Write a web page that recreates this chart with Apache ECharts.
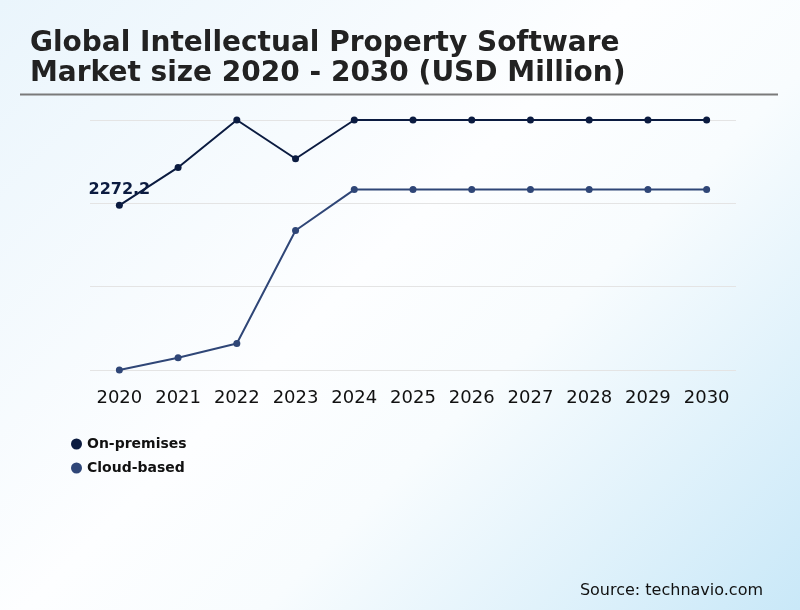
<!DOCTYPE html>
<html>
<head>
<meta charset="utf-8">
<title>Global Intellectual Property Software Market</title>
<script src="https://cdn.jsdelivr.net/npm/echarts@6/dist/echarts.min.js"></script>
<style>
  html, body { margin: 0; padding: 0; }
  body {
    width: 800px; height: 610px; overflow: hidden;
    background: linear-gradient(135deg, #eaf5fc 0%, #fdfeff 45%, #f8fcfe 62%, #c9e8f8 100%);
  }
  #chart { width: 800px; height: 610px; }
</style>
</head>
<body>
<div id="chart"></div>
<script>
// data
var years = ['2020', '2021', '2022', '2023', '2024', '2025', '2026', '2027', '2028', '2029', '2030'];
var onPremises = [2272.2, 2795, 3450, 2915, 3450, 3450, 3450, 3450, 3450, 3450, 3450];
var cloudBased = [0, 170, 365, 1925, 2490, 2490, 2490, 2490, 2490, 2490, 2490];
var seriesNames = ['On-premises', 'Cloud-based'];
var seriesColors = ['#0b1b40', '#2f4677'];

var chart = echarts.init(document.getElementById('chart'));

chart.setOption({
  backgroundColor: 'transparent',
  textStyle: { fontFamily: 'DejaVu Sans' },
  title: [{
    text: 'Global Intellectual Property Software\nMarket size 2020 - 2030 (USD Million)',
    left: 25,
    top: 24,
    textStyle: { fontSize: 28, fontWeight: 'bold', color: '#222', lineHeight: 30, fontFamily: 'DejaVu Sans' }
  }, {
    text: 'Source: technavio.com',
    right: 32,
    top: 578,
    textStyle: { fontSize: 16, fontWeight: 'normal', color: '#111', fontFamily: 'DejaVu Sans' }
  }],
  graphic: [{
    type: 'line',
    shape: { x1: 20, y1: 94.5, x2: 778, y2: 94.5 },
    style: { stroke: '#7a7a7a', lineWidth: 2 }
  }],
  legend: {
    orient: 'vertical',
    left: 66,
    top: 432,
    itemGap: 10,
    itemWidth: 11,
    itemHeight: 11,
    icon: 'circle',
    textStyle: { fontSize: 14, fontWeight: 'bold', color: '#111' },
    data: seriesNames
  },
  grid: { left: 90, top: 120, width: 646, height: 250 },
  xAxis: {
    type: 'category',
    data: years,
    boundaryGap: true,
    axisLine: { show: false },
    axisTick: { show: false },
    axisLabel: { fontSize: 18, color: '#111', margin: 19, interval: 0 }
  },
  yAxis: {
    type: 'value',
    min: 0,
    max: 3450,
    interval: 1150,
    axisLabel: { show: false },
    axisLine: { show: false },
    axisTick: { show: false },
    splitLine: { lineStyle: { color: '#e4e4e4', width: 1 } }
  },
  series: [{
    name: seriesNames[0],
    type: 'line',
    data: onPremises,
    color: seriesColors[0],
    symbol: 'circle',
    symbolSize: 7,
    lineStyle: { width: 2, color: seriesColors[0] },
    itemStyle: { color: seriesColors[0] },
    label: {
      show: true,
      position: 'top',
      distance: 4,
      fontSize: 16,
      fontWeight: 'bold',
      color: seriesColors[0],
      formatter: function (p) { return p.dataIndex === 0 ? p.value : ''; }
    }
  }, {
    name: seriesNames[1],
    type: 'line',
    data: cloudBased,
    color: seriesColors[1],
    symbol: 'circle',
    symbolSize: 7,
    lineStyle: { width: 2, color: seriesColors[1] },
    itemStyle: { color: seriesColors[1] }
  }]
});
</script>
</body>
</html>
